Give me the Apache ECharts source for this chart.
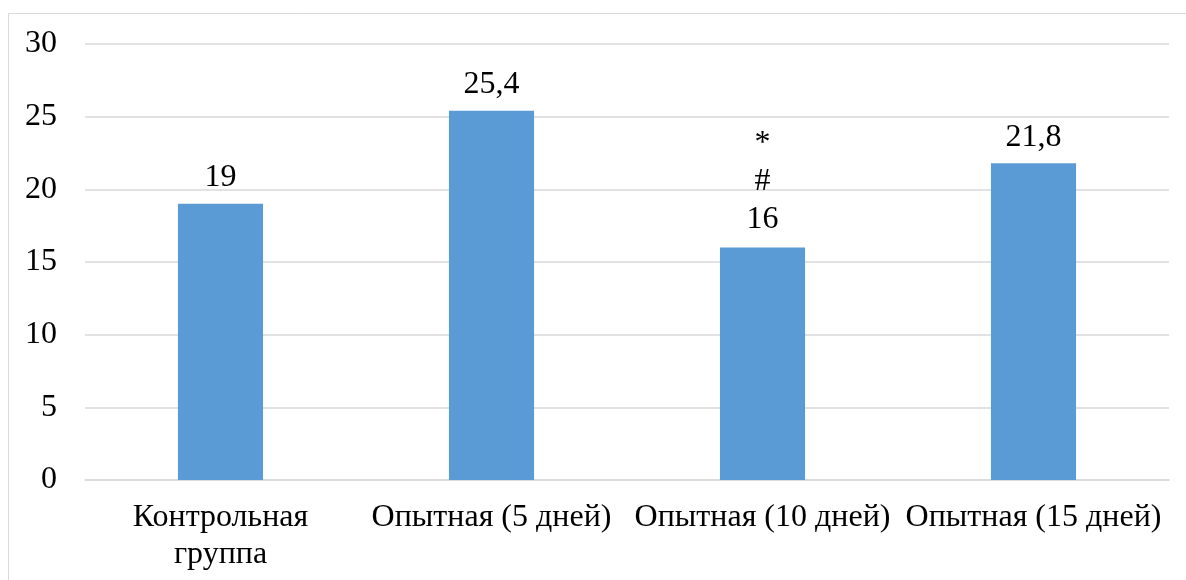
<!DOCTYPE html>
<html>
<head>
<meta charset="utf-8">
<script src="https://cdn.jsdelivr.net/npm/echarts@6/dist/echarts.min.js"></script>
<style>
html,body{margin:0;padding:0;background:#fff;}
#chart{width:1186px;height:580px;}
</style>
</head>
<body>
<div id="chart"></div>
<script>
const categories = ['Контрольная\nгруппа', 'Опытная (5 дней)', 'Опытная (10 дней)', 'Опытная (15 дней)'];
const values = [19, 25.4, 16, 21.8];
const labelPrefixes = ['', '', '*\n#\n', ''];
const yTicks = { min: 0, max: 30, interval: 5 };

const font = '"Liberation Serif", "Times New Roman", serif';
const chart = echarts.init(document.getElementById('chart'));

const seriesData = values.map((v, i) => {
  const item = { value: v };
  if (labelPrefixes[i]) {
    item.label = { lineHeight: 38, distance: 9 };
  }
  return item;
});

chart.setOption({
  animation: false,
  backgroundColor: '#fff',
  graphic: [
    { type: 'line', shape: { x1: 8.5, y1: 13.5, x2: 1186, y2: 13.5 }, style: { stroke: '#d9d9d9', lineWidth: 1 } },
    { type: 'line', shape: { x1: 8.5, y1: 13.5, x2: 8.5, y2: 580 }, style: { stroke: '#d9d9d9', lineWidth: 1 } }
  ],
  grid: { left: 85, right: 17, top: 44, bottom: 100, containLabel: false },
  xAxis: {
    type: 'category',
    data: categories,
    axisTick: { show: false },
    axisLine: { show: true, lineStyle: { color: '#d9d9d9', width: 1.5 } },
    axisLabel: { interval: 0, color: '#000', fontFamily: font, fontSize: 32, lineHeight: 37, margin: 19 }
  },
  yAxis: {
    type: 'value',
    min: yTicks.min, max: yTicks.max, interval: yTicks.interval,
    axisLine: { show: false },
    axisTick: { show: false },
    splitLine: { lineStyle: { color: '#d9d9d9', width: 1.5 } },
    axisLabel: { color: '#000', fontFamily: font, fontSize: 32, margin: 28 }
  },
  series: [{
    type: 'bar',
    data: seriesData,
    barWidth: '31.4%',
    itemStyle: { color: '#5B9BD5' },
    label: {
      show: true,
      position: 'top',
      distance: 10,
      color: '#000',
      fontFamily: font,
      fontSize: 32,
      lineHeight: 32,
      formatter: p => labelPrefixes[p.dataIndex] + String(p.value).replace('.', ',')
    }
  }]
});
</script>
</body>
</html>
